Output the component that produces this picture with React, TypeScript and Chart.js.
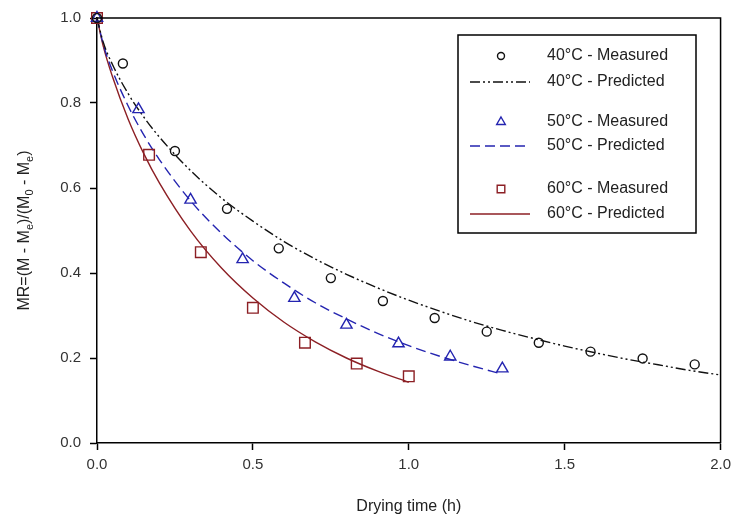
import { useEffect, useRef } from "react";
import { Chart, registerables } from "chart.js";

Chart.register(...registerables);

// Measured moisture ratio at each drying temperature
const t40 = [0, 0.083, 0.25, 0.417, 0.583, 0.75, 0.917, 1.083, 1.25, 1.417, 1.583, 1.75, 1.917];
const mr40 = [1.0, 0.893, 0.687, 0.551, 0.458, 0.388, 0.334, 0.294, 0.262, 0.236, 0.215, 0.199, 0.185];
const t50 = [0, 0.133, 0.3, 0.467, 0.633, 0.8, 0.967, 1.133, 1.3];
const mr50 = [1.0, 0.785, 0.572, 0.432, 0.341, 0.278, 0.234, 0.203, 0.175];
const t60 = [0, 0.167, 0.333, 0.5, 0.667, 0.833, 1.0];
const mr60 = [1.0, 0.678, 0.449, 0.318, 0.236, 0.187, 0.157];

// Predicted (model) curves
const tFit40 = [0, 0.02, 0.05, 0.1, 0.15, 0.2, 0.3, 0.4, 0.5, 0.6, 0.7, 0.8, 0.9, 1.0, 1.1, 1.2, 1.3, 1.4, 1.5, 1.6, 1.7, 1.8, 1.9, 2.0];
const fit40 = [1.0, 0.943, 0.89, 0.822, 0.767, 0.72, 0.641, 0.576, 0.522, 0.474, 0.433, 0.397, 0.365, 0.336, 0.31, 0.286, 0.265, 0.246, 0.228, 0.212, 0.197, 0.184, 0.171, 0.16];
const tFit50 = [0, 0.02, 0.05, 0.1, 0.15, 0.2, 0.3, 0.4, 0.5, 0.6, 0.7, 0.8, 0.9, 1.0, 1.1, 1.2, 1.3];
const fit50 = [1.0, 0.938, 0.875, 0.793, 0.725, 0.667, 0.57, 0.493, 0.429, 0.376, 0.33, 0.292, 0.258, 0.229, 0.204, 0.182, 0.162];
const tFit60 = [0, 0.02, 0.05, 0.1, 0.15, 0.2, 0.3, 0.4, 0.5, 0.6, 0.7, 0.8, 0.9, 1.0];
const fit60 = [1.0, 0.934, 0.861, 0.762, 0.681, 0.612, 0.499, 0.411, 0.341, 0.284, 0.238, 0.2, 0.169, 0.143];

const xTicks = [0, 0.5, 1.0, 1.5, 2.0];
const yTicks = [0, 0.2, 0.4, 0.6, 0.8, 1.0];

const legendLabels = [
  "40°C - Measured",
  "40°C - Predicted",
  "50°C - Measured",
  "50°C - Predicted",
  "60°C - Measured",
  "60°C - Predicted",
];

const BLACK = "#111111";
const BLUE = "#2424b0";
const RED = "#8c1f24";
const FONT = "'Liberation Sans', Arial, sans-serif";

const DASH40 = [10, 3, 2, 3, 2, 3];
const DASH50 = [10, 5];

const pts = (xs: number[], ys: number[]) => xs.map((x, i) => ({ x, y: ys[i] }));

function drawMarker(ctx: CanvasRenderingContext2D, style: string, x: number, y: number, r: number) {
  ctx.beginPath();
  if (style === "circle") {
    ctx.arc(x, y, r, 0, Math.PI * 2);
  } else if (style === "triangle") {
    const h = r * Math.sqrt(3);
    ctx.moveTo(x, y - r);
    ctx.lineTo(x + h / 2, y + r / 2);
    ctx.lineTo(x - h / 2, y + r / 2);
    ctx.closePath();
  } else {
    ctx.rect(x - r, y - r, 2 * r, 2 * r);
  }
  ctx.stroke();
}

const framePlugin = {
  id: "frameAndTitles",
  afterDraw(chart: any) {
    const { ctx, chartArea } = chart;
    const { left, right, top, bottom } = chartArea;
    ctx.save();
    // top and right frame lines
    ctx.strokeStyle = "#000";
    ctx.lineWidth = 1.5;
    ctx.beginPath();
    ctx.moveTo(left, top);
    ctx.lineTo(right, top);
    ctx.lineTo(right, bottom);
    ctx.stroke();

    // x axis title
    ctx.fillStyle = "#222";
    ctx.font = `16px ${FONT}`;
    ctx.textAlign = "center";
    ctx.textBaseline = "middle";
    ctx.fillText("Drying time (h)", (left + right) / 2, 507);

    // y axis title with subscripts
    const parts: [string, boolean][] = [
      ["MR=(M - M", false],
      ["e", true],
      [")/(M", false],
      ["0", true],
      [" - M", false],
      ["e", true],
      [")", false],
    ];
    const mainFont = `16px ${FONT}`;
    const subFont = `11px ${FONT}`;
    let total = 0;
    for (const [s, sub] of parts) {
      ctx.font = sub ? subFont : mainFont;
      total += ctx.measureText(s).width;
    }
    ctx.translate(25, (top + bottom) / 2);
    ctx.rotate(-Math.PI / 2);
    ctx.textAlign = "left";
    ctx.textBaseline = "middle";
    let cx = -total / 2;
    for (const [s, sub] of parts) {
      ctx.font = sub ? subFont : mainFont;
      ctx.fillText(s, cx, sub ? 5 : 0);
      cx += ctx.measureText(s).width;
    }
    ctx.restore();

    // legend box
    ctx.save();
    const bx = 458, by = 35, bw = 238, bh = 198;
    ctx.strokeStyle = "#000";
    ctx.lineWidth = 1.5;
    ctx.strokeRect(bx, by, bw, bh);
    const rows = [56, 82, 122, 146, 189, 214];
    const kinds = [
      { type: "point", style: "circle", color: BLACK, r: 3.5 },
      { type: "line", dash: DASH40, color: BLACK },
      { type: "point", style: "triangle", color: BLUE, r: 5 },
      { type: "line", dash: DASH50, color: BLUE },
      { type: "point", style: "rect", color: RED, r: 3.8 },
      { type: "line", dash: [], color: RED },
    ];
    kinds.forEach((k: any, i) => {
      const y = rows[i];
      ctx.strokeStyle = k.color;
      ctx.lineWidth = 1.4;
      if (k.type === "point") {
        ctx.setLineDash([]);
        drawMarker(ctx, k.style, 501, y, k.r);
      } else {
        ctx.setLineDash(k.dash);
        ctx.beginPath();
        ctx.moveTo(470, y);
        ctx.lineTo(530, y);
        ctx.stroke();
      }
      ctx.setLineDash([]);
      ctx.fillStyle = "#222";
      ctx.font = `16px ${FONT}`;
      ctx.textAlign = "left";
      ctx.textBaseline = "middle";
      ctx.fillText(legendLabels[i], 547, y);
    });
    ctx.restore();
  },
};

export default function App() {
  const ref = useRef<HTMLCanvasElement | null>(null);

  useEffect(() => {
    if (!ref.current) return;
    const lineCommon = {
      showLine: true,
      pointRadius: 0,
      pointHoverRadius: 0,
      borderWidth: 1.4,
      tension: 0.4,
      cubicInterpolationMode: "monotone" as const,
      fill: false,
      clip: false as any,
    };
    const pointCommon = {
      showLine: false,
      backgroundColor: "rgba(0,0,0,0)",
      pointBorderWidth: 1.4,
      clip: false as any,
    };
    const chart = new Chart(ref.current, {
      type: "scatter",
      data: {
        datasets: [
          { ...pointCommon, label: legendLabels[0], data: pts(t40, mr40), borderColor: BLACK, pointStyle: "circle", pointRadius: 4.5 },
          { ...pointCommon, label: legendLabels[2], data: pts(t50, mr50), borderColor: BLUE, pointStyle: "triangle", pointRadius: 6.5 },
          { ...pointCommon, label: legendLabels[4], data: pts(t60, mr60), borderColor: RED, pointStyle: "rect", pointRadius: 7.5 },
          { ...lineCommon, label: legendLabels[1], data: pts(tFit40, fit40), borderColor: BLACK, borderDash: DASH40 },
          { ...lineCommon, label: legendLabels[3], data: pts(tFit50, fit50), borderColor: BLUE, borderDash: DASH50 },
          { ...lineCommon, label: legendLabels[5], data: pts(tFit60, fit60), borderColor: RED },
        ],
      },
      options: {
        animation: false,
        responsive: false,
        layout: { padding: { top: 14, right: 16, left: 0, bottom: 0 } },
        plugins: { legend: { display: false }, tooltip: { enabled: false } },
        scales: {
          x: {
            type: "linear",
            min: 0,
            max: 2,
            afterFit: (s: any) => { s.height = 78; },
            afterBuildTicks: (s: any) => { s.ticks = xTicks.map((v) => ({ value: v })); },
            ticks: {
              color: "#333",
              font: { family: FONT, size: 15 },
              padding: 6,
              maxRotation: 0,
              callback: (v: any) => Number(v).toFixed(1),
            },
            grid: { drawOnChartArea: false, drawTicks: true, tickLength: 7, color: "#000", tickWidth: 1.5 },
            border: { color: "#000", width: 1.5 },
          },
          y: {
            type: "linear",
            min: 0,
            max: 1,
            afterFit: (s: any) => { s.width = 97; },
            afterBuildTicks: (s: any) => { s.ticks = yTicks.map((v) => ({ value: v })); },
            ticks: {
              color: "#333",
              font: { family: FONT, size: 15 },
              padding: 9,
              callback: (v: any) => Number(v).toFixed(1),
            },
            grid: { drawOnChartArea: false, drawTicks: true, tickLength: 7, color: "#000", tickWidth: 1.5 },
            border: { color: "#000", width: 1.5 },
          },
        },
      },
      plugins: [framePlugin],
    });
    return () => chart.destroy();
  }, []);

  return (
    <div style={{ position: "absolute", left: 0, top: 0, width: 737, height: 521, background: "#fff" }}>
      <canvas ref={ref} width={737} height={521} style={{ width: 737, height: 521, display: "block" }} />
    </div>
  );
}
